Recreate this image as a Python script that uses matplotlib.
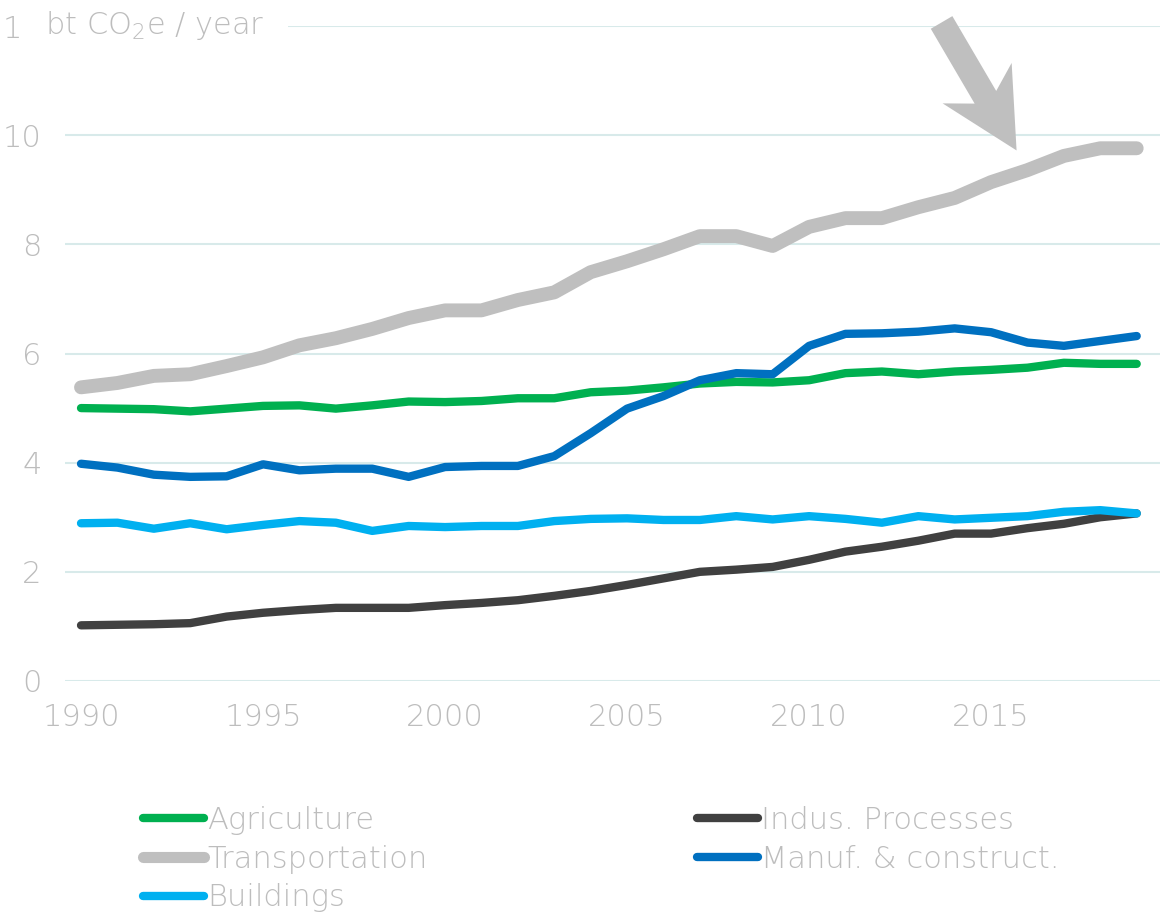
import matplotlib
matplotlib.use("Agg")
import matplotlib.pyplot as plt
from matplotlib.lines import Line2D
from matplotlib.patches import FancyArrow
from matplotlib.transforms import IdentityTransform

plt.rcParams['font.family'] = ['DejaVu Sans']
plt.rcParams['mathtext.fontset'] = 'custom'
plt.rcParams['mathtext.rm'] = 'DejaVu Sans:extralight'

# data (bt CO2e / year)
years = list(range(1990, 2020))
agriculture = [5.00, 4.99, 4.98, 4.94, 4.99, 5.04, 5.05, 4.99, 5.05, 5.12,
               5.11, 5.13, 5.18, 5.18, 5.29, 5.32, 5.38, 5.45, 5.48, 5.47,
               5.51, 5.64, 5.67, 5.62, 5.67, 5.70, 5.74, 5.83, 5.81, 5.81]
indus = [1.02, 1.03, 1.04, 1.06, 1.18, 1.25, 1.30, 1.34, 1.34, 1.34,
         1.39, 1.43, 1.48, 1.56, 1.65, 1.76, 1.88, 2.00, 2.04, 2.09,
         2.22, 2.37, 2.46, 2.57, 2.70, 2.70, 2.80, 2.88, 3.00, 3.07]
transport = [5.38, 5.46, 5.59, 5.62, 5.77, 5.93, 6.15, 6.28, 6.45, 6.65,
             6.79, 6.79, 6.98, 7.12, 7.49, 7.69, 7.91, 8.15, 8.15, 7.97,
             8.32, 8.48, 8.48, 8.68, 8.85, 9.14, 9.36, 9.62, 9.76, 9.76]
manuf = [3.98, 3.91, 3.78, 3.74, 3.75, 3.97, 3.86, 3.89, 3.89, 3.74,
         3.92, 3.94, 3.94, 4.12, 4.54, 4.99, 5.22, 5.51, 5.64, 5.62,
         6.14, 6.36, 6.37, 6.40, 6.46, 6.39, 6.20, 6.14, 6.23, 6.32]
buildings = [2.89, 2.90, 2.79, 2.89, 2.78, 2.86, 2.93, 2.90, 2.75, 2.84,
             2.82, 2.84, 2.84, 2.93, 2.97, 2.98, 2.95, 2.95, 3.02, 2.96,
             3.02, 2.97, 2.90, 3.02, 2.96, 2.99, 3.02, 3.10, 3.13, 3.07]

xticks = [1990, 1995, 2000, 2005, 2010, 2015]
yticks = [0, 2, 4, 6, 8, 10, 12]

txt_color = '#bdbdbd'
grid_color = '#d8eaea'
c_agri, c_ind, c_tr, c_man, c_bld = '#00b050', '#404040', '#bfbfbf', '#0070c0', '#00b0f0'
fs = 22

fig = plt.figure(figsize=(11.6, 9.18), dpi=100)
ax = fig.add_axes([65 / 1160, 237 / 918, 1 - 65 / 1160, 655 / 918])

kw = dict(solid_capstyle='round', solid_joinstyle='round', clip_on=False)
ax.plot(years, agriculture, color=c_agri, lw=6, **kw)
ax.plot(years, indus, color=c_ind, lw=6, **kw)
ax.plot(years, transport, color=c_tr, lw=10, **kw)
ax.plot(years, manuf, color=c_man, lw=6, **kw)
ax.plot(years, buildings, color=c_bld, lw=6, **kw)

ax.set_xlim(1989.56, 2019.64)
ax.set_ylim(0, 12)
ax.set_xticks(xticks)
ax.set_yticks(yticks)
ax.tick_params(length=0, labelsize=fs, labelcolor=txt_color)
ax.tick_params(axis='x', pad=16)
ax.tick_params(axis='y', pad=17)
for lab in ax.get_xticklabels() + ax.get_yticklabels():
    lab.set_fontweight(200)
ax.grid(axis='y', color=grid_color, lw=1.5)
ax.set_axisbelow(True)
for s in ax.spines.values():
    s.set_visible(False)

# unit label covering part of the top tick
fig.text(45 / 1160, 1 - 26 / 918, r"bt CO$_2$e / year", fontsize=fs, color=txt_color,
         fontweight=200, va='center', ha='left',
         bbox=dict(facecolor='white', edgecolor='none', pad=17))

# arrow pointing at the transportation line
tip = ax.transData.transform((2015.7, 9.72))
arrow = FancyArrow(tip[0] - 75, tip[1] + 128, 75, -128, width=25, head_width=80,
                   head_length=78, overhang=0.21, length_includes_head=True,
                   transform=IdentityTransform(), color=c_tr, lw=0)
fig.add_artist(arrow)

# legend
def handle(c, w):
    return Line2D([], [], color=c, lw=w, solid_capstyle='round')

leg_kw = dict(frameon=False, labelcolor=txt_color, handlelength=2.0,
              handletextpad=0.1, labelspacing=0.32, borderpad=0, borderaxespad=0,
              loc='center left', prop={'weight': 200, 'size': fs})
fig.legend([handle(c_agri, 6), handle(c_tr, 8), handle(c_bld, 6)],
           ['Agriculture', 'Transportation', 'Buildings'],
           bbox_to_anchor=(143 / 1160, 1 - 859 / 918), **leg_kw)
fig.legend([handle(c_ind, 6), handle(c_man, 6)],
           ['Indus. Processes', 'Manuf. & construct.'],
           bbox_to_anchor=(697 / 1160, 1 - 840 / 918), **leg_kw)

fig.savefig('out.png', dpi=100)
